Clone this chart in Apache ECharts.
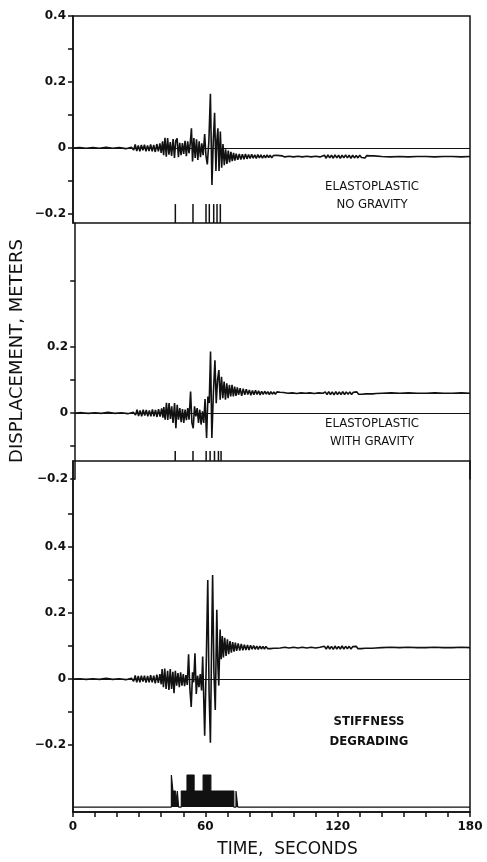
<!DOCTYPE html>
<html>
<head>
<meta charset="utf-8">
<script src="https://cdn.jsdelivr.net/npm/echarts@6/dist/echarts.min.js"></script>
<style>
  html, body { margin: 0; padding: 0; background: #fff; }
  #chart { width: 487px; height: 862px; }
</style>
</head>
<body>
<div id="chart"></div>
<script>
// displacement histories, [time s, displacement m]
var noGravity = [
  [0,0],[3,0.001],[6,-0.001],[9,0.001],[12,-0.001],[15,0.002],[18,-0.001],[21,0.001],[24,-0.002],[26.5,0.002],
  [27.5,-0.006],[28.2,0.011],[28.9,-0.009],[29.6,0.008],[30.3,-0.01],[31.0,0.009],[31.7,-0.007],[32.4,0.01],[33.1,-0.01],[33.8,0.008],
  [34.5,-0.009],[35.2,0.011],[35.9,-0.01],[36.6,0.009],[37.3,-0.012],[38.0,0.012],[38.7,-0.01],[39.4,0.014],[40.0,-0.015],
  [40.6,0.02],[41.1,-0.022],[41.7,0.031],[42.3,-0.026],[42.9,0.03],[43.5,-0.02],[44.1,0.018],[44.7,-0.024],[45.4,0.027],[46.0,-0.03],
  [46.6,0.022],[47.2,0.029],[47.8,-0.028],[48.4,0.016],[49.0,-0.022],[49.6,0.015],[50.2,-0.018],[50.8,0.022],[51.4,-0.025],[52.0,0.02],
  [52.6,-0.016],[53.1,0.01],[53.7,0.06],[54.2,-0.041],[54.8,0.03],[55.4,-0.03],[56.0,0.026],[56.6,-0.036],[57.2,0.02],[57.8,-0.028],
  [58.4,0.014],[59.0,-0.022],[59.7,0.042],[60.3,-0.025],[60.9,-0.05],[61.6,0.02],[62.3,0.164],[63.0,-0.112],[63.6,0.02],[64.2,0.107],
  [64.8,-0.07],[65.2,0.02],[65.7,0.06],[66.2,-0.07],[66.8,0.05],[67.4,-0.06],[68.0,0.012],[68.6,-0.052],[69.2,-0.004],[69.8,-0.048],
  [70.4,-0.008],[71.0,-0.044],[71.6,-0.012],[72.2,-0.04],[72.8,-0.015],[73.4,-0.038],[74.0,-0.017],[74.7,-0.036],[75.4,-0.018],[76.1,-0.035],
  [76.8,-0.019],[77.5,-0.034],[78.2,-0.018],[78.9,-0.033],[79.6,-0.02],[80.3,-0.032],[81.0,-0.019],[81.7,-0.031],[82.4,-0.021],[83.1,-0.032],
  [83.8,-0.02],[84.5,-0.03],[85.2,-0.021],[85.9,-0.031],[86.6,-0.022],[87.3,-0.03],[88.0,-0.021],[88.7,-0.029],[89.4,-0.022],[90.1,-0.03],
  [90.8,-0.023],[91.5,-0.029],[92.2,-0.022],[92.9,-0.028],[93.6,-0.023],[94.3,-0.029],[95.0,-0.024],[96,-0.027],[98,-0.025],[100,-0.027],
  [102,-0.025],[104,-0.027],[106,-0.025],[108,-0.027],[110,-0.025],[112,-0.027],
  [114,-0.022],[114.8,-0.031],[115.6,-0.021],[116.4,-0.03],[117.2,-0.022],[118,-0.031],[118.8,-0.021],[119.6,-0.03],[120.4,-0.022],[121.2,-0.031],
  [122,-0.022],[122.8,-0.03],[123.6,-0.021],[124.4,-0.03],[125.2,-0.022],[126,-0.031],[126.8,-0.022],[127.6,-0.03],[128.4,-0.023],[129.2,-0.03],
  [130,-0.022],[130.8,-0.029],[131.6,-0.023],[132.4,-0.03],[133.2,-0.023],[134,-0.029],[134.8,-0.024],[135.6,-0.029],[136.4,-0.024],[137.2,-0.028],
  [140,-0.026],[144,-0.027],[148,-0.026],[152,-0.027],[156,-0.026],[160,-0.026],[164,-0.027],[168,-0.026],[172,-0.026],[176,-0.027],[180,-0.026]
];

var withGravity = [
  [0,0],[3,0.001],[6,-0.001],[9,0.001],[12,-0.001],[15,0.002],[18,-0.001],[21,0.001],[24,-0.002],[26.5,0.002],
  [27.5,-0.006],[28.2,0.01],[28.9,-0.009],[29.6,0.008],[30.3,-0.01],[31.0,0.01],[31.7,-0.008],[32.4,0.009],[33.1,-0.01],[33.8,0.008],
  [34.5,-0.01],[35.2,0.011],[35.9,-0.01],[36.6,0.009],[37.3,-0.012],[38.0,0.012],[38.7,-0.011],[39.4,0.014],[40.0,-0.014],
  [40.4,0.018],[41.0,-0.02],[41.6,0.031],[42.2,-0.021],[42.8,0.03],[43.4,-0.018],[44.0,0.02],[44.6,-0.03],[45.3,0.03],[45.9,-0.046],
  [46.5,0.025],[47.1,-0.02],[47.7,0.015],[48.3,-0.028],[48.9,0.012],[49.5,-0.03],[50.1,0.01],[50.7,-0.022],[51.3,0.015],[51.9,-0.02],
  [52.6,0.065],[53.2,-0.03],[53.8,-0.046],[54.4,0.02],[55.0,-0.01],[55.6,0.015],[56.2,-0.03],[56.8,0.01],[57.4,-0.035],[58.0,0.005],
  [58.6,-0.03],[59.2,0.042],[59.9,-0.076],[60.5,0.05],[61.1,0.03],[61.7,0.186],[62.3,-0.076],[63.0,0.06],[63.7,0.16],[64.3,0.03],
  [64.9,0.1],[65.5,0.13],[66.1,0.04],[66.7,0.11],[67.3,0.045],[67.9,0.095],[68.5,0.04],[69.1,0.09],[69.7,0.045],[70.3,0.085],
  [70.9,0.05],[71.5,0.085],[72.1,0.05],[72.7,0.08],[73.3,0.052],[73.9,0.078],[74.5,0.055],[75.2,0.075],[75.9,0.052],[76.6,0.074],
  [77.3,0.055],[78.0,0.072],[78.7,0.056],[79.4,0.07],[80.1,0.054],[80.8,0.068],[81.5,0.055],[82.2,0.069],[82.9,0.056],[83.6,0.067],
  [84.3,0.055],[85.0,0.066],[85.7,0.056],[86.4,0.066],[87.1,0.057],[87.8,0.065],[88.5,0.056],[89.2,0.065],[89.9,0.057],[90.6,0.064],
  [91.3,0.057],[92.0,0.064],[92.7,0.058],[93.4,0.063],[94.1,0.058],[95,0.062],[97,0.06],[99,0.061],[101,0.059],[103,0.061],
  [105,0.06],[107,0.061],[109,0.059],[111,0.061],[113,0.06],
  [114,0.064],[114.8,0.056],[115.6,0.065],[116.4,0.056],[117.2,0.064],[118,0.055],[118.8,0.065],[119.6,0.056],[120.4,0.064],[121.2,0.056],
  [122,0.065],[122.8,0.056],[123.6,0.064],[124.4,0.057],[125.2,0.064],[126,0.056],[126.8,0.063],[127.6,0.057],[128.4,0.064],[129.2,0.057],
  [130,0.063],[130.8,0.057],[131.6,0.063],[132.4,0.058],[133.2,0.063],[134,0.058],[134.8,0.062],[135.6,0.058],[136.4,0.062],[137.2,0.059],
  [140,0.06],[144,0.061],[148,0.06],[152,0.061],[156,0.06],[160,0.06],[164,0.061],[168,0.06],[172,0.06],[176,0.061],[180,0.06]
];

var stiffness = [
  [0,0],[3,0.001],[6,-0.001],[9,0.001],[12,-0.001],[15,0.002],[18,-0.001],[21,0.001],[24,-0.002],[26.5,0.002],
  [27.5,-0.007],[28.2,0.011],[28.9,-0.01],[29.6,0.009],[30.3,-0.01],[31.0,0.01],[31.7,-0.008],[32.4,0.01],[33.1,-0.011],[33.8,0.009],
  [34.5,-0.01],[35.2,0.012],[35.9,-0.01],[36.6,0.01],[37.3,-0.013],[38.0,0.013],[38.7,-0.012],[39.4,0.015],[40.0,-0.016],
  [40.4,0.03],[41.0,-0.025],[41.6,0.032],[42.2,-0.03],[42.9,0.025],[43.5,-0.033],[44.1,0.03],[44.7,-0.03],[45.3,0.022],[45.8,-0.043],
  [46.4,0.025],[47.0,-0.02],[47.6,0.018],[48.2,-0.025],[48.8,0.02],[49.4,-0.02],[50.0,0.015],[50.6,-0.022],[51.2,0.012],[51.8,-0.018],
  [52.4,0.075],[53.0,-0.03],[53.6,-0.085],[54.2,0.02],[54.7,-0.01],[55.3,0.078],[55.9,-0.045],[56.5,0.01],[57.1,-0.025],[57.7,0.015],
  [58.3,-0.035],[58.8,0.068],[59.7,-0.172],[60.4,0.04],[61.1,0.3],[61.7,-0.04],[62.3,-0.193],[62.8,0.08],[63.3,0.315],[63.9,0.02],
  [64.5,-0.094],[65.2,0.21],[65.7,0.04],[66.1,-0.02],[66.7,0.15],[67.2,0.06],[67.7,0.13],[68.2,0.065],[68.8,0.125],[69.4,0.07],
  [70.0,0.12],[70.6,0.075],[71.2,0.115],[71.8,0.08],[72.4,0.112],[73.0,0.083],[73.6,0.11],[74.2,0.085],[74.9,0.108],[75.6,0.086],
  [76.3,0.106],[77.0,0.087],[77.7,0.104],[78.4,0.088],[79.1,0.103],[79.8,0.088],[80.5,0.102],[81.2,0.09],[81.9,0.101],[82.6,0.09],
  [83.3,0.1],[84.0,0.09],[84.7,0.1],[85.4,0.091],[86.1,0.099],[86.8,0.091],[87.5,0.099],[88.2,0.092],[88.9,0.098],[89.6,0.092],
  [90.3,0.098],[91.0,0.093],[91.7,0.097],[92.4,0.093],[93.1,0.097],[94,0.094],[96,0.096],[98,0.094],[100,0.096],[102,0.094],
  [104,0.096],[106,0.094],[108,0.096],[110,0.094],[112,0.096],
  [114,0.099],[114.8,0.091],[115.6,0.1],[116.4,0.091],[117.2,0.099],[118,0.09],[118.8,0.1],[119.6,0.091],[120.4,0.099],[121.2,0.091],
  [122,0.1],[122.8,0.091],[123.6,0.099],[124.4,0.092],[125.2,0.099],[126,0.091],[126.8,0.098],[127.6,0.092],[128.4,0.099],[129.2,0.092],
  [130,0.098],[130.8,0.092],[131.6,0.098],[132.4,0.093],[133.2,0.098],[134,0.093],[134.8,0.097],[135.6,0.093],[136.4,0.097],[137.2,0.094],
  [140,0.095],[144,0.096],[148,0.095],[152,0.096],[156,0.095],[160,0.095],[164,0.096],[168,0.095],[172,0.095],[176,0.096],[180,0.095]
];

// yield event times (s)
var yieldNoGravity = [46.4, 54.4, 60.3, 61.8, 63.8, 65.3, 66.8];
var yieldWithGravity = [45.6, 53.7, 59.7, 61.5, 63.5, 65.3, 66.5];

// stiffness degrading yield state: level held from each time to the next
var stiffYieldTime  = [0, 44.6, 45.3, 46.4, 47.3, 47.9, 49.1, 51.7, 54.9, 59.0, 62.5, 72.9, 73.9, 74.7, 180];
var stiffYieldLevel = [0, 2, 1, 0, 1, 0, 1, 2, 1, 2, 1, 0, 1, 0, 0];

var xTicks = [0, 60, 120, 180];
var yTicks1 = [-0.2, -0.1, 0, 0.1, 0.2, 0.3, 0.4];
var yLabels1 = [-0.2, 0, 0.2, 0.4];
var yTicks2 = [-0.2, -0.1, 0, 0.1, 0.2, 0.4];
var yLabels2 = [-0.2, 0, 0.2];
var yTicks3 = [-0.2, -0.1, 0, 0.1, 0.2, 0.3, 0.4, 0.5];
var yLabels3 = [-0.2, 0, 0.2, 0.4];

var myChart = echarts.init(document.getElementById('chart'));

var ink = '#111';
var font = 'DejaVu Sans';
var labelFont = '13px "Liberation Sans Narrow", "DejaVu Sans Condensed", "Liberation Sans", sans-serif';

function fmt(v) {
    if (v === 0) return '0';
    return (v < 0 ? '\u2212' : '') + Math.abs(v).toFixed(1);
}

function yAxisFor(grid, min, max, ticks, labels, extra) {
    var ax = {
        type: 'value', gridIndex: grid, min: min, max: max,
        axisLine: { show: true, onZero: false, lineStyle: { color: ink, width: 1.5 } },
        axisTick: { show: true, inside: false, length: 5, customValues: ticks, lineStyle: { color: ink, width: 1.5 } },
        axisLabel: { customValues: labels, formatter: fmt, margin: 7, color: ink, fontFamily: font, fontWeight: 'bold', fontSize: 12 },
        splitLine: { show: false }
    };
    for (var k in extra) ax[k] = extra[k];
    return ax;
}

var zeroLine = {
    silent: true, symbol: 'none', label: { show: false },
    lineStyle: { color: ink, width: 1.2, type: 'solid' },
    data: [{ yAxis: 0 }]
};

function yieldTicks(xi, yi, times, base, top) {
    return {
        type: 'custom', xAxisIndex: xi, yAxisIndex: yi, silent: true,
        data: times.map(function (t) { return [t, base]; }),
        encode: { x: 0, y: 1 },
        renderItem: function (params, api) {
            var p0 = api.coord([api.value(0), base]);
            var p1 = api.coord([api.value(0), top]);
            return { type: 'line', shape: { x1: p0[0], y1: p0[1], x2: p1[0], y2: p1[1] },
                     style: { stroke: ink, lineWidth: 1.5 } };
        }
    };
}

// panel value ranges (m) that match the stacked layout
var min1 = -0.2273, max1 = 0.4;
var min2 = -0.2, max2 = 0.5758, box2 = -0.1455;
var min3 = -0.403, max3 = 0.6606;
var yieldBase3 = -0.388, yieldStep3 = 0.0485;

var stiffYield = stiffYieldTime.map(function (t, i) {
    return [t, yieldBase3 + stiffYieldLevel[i] * yieldStep3];
});

var traceStyle = { color: ink, width: 1.6 };

option = {
    animation: false,
    backgroundColor: '#fff',
    grid: [
        { left: 73, right: 17, top: 16, height: 207, show: true, borderColor: ink, borderWidth: 1.5, backgroundColor: 'transparent' },
        { left: 73, right: 17, top: 223, height: 256, show: false },
        { left: 73, right: 17, top: 461, height: 351, show: true, borderColor: ink, borderWidth: 1.5, backgroundColor: 'transparent' }
    ],
    xAxis: [
        { type: 'value', gridIndex: 0, min: 0, max: 180, show: false },
        { type: 'value', gridIndex: 1, min: 0, max: 180, show: false },
        {
            type: 'value', gridIndex: 2, min: 0, max: 180, interval: 10, position: 'bottom',
            axisLine: { show: true, onZero: false, lineStyle: { color: ink, width: 1.5 } },
            axisTick: { show: true, length: 5, lineStyle: { color: ink, width: 1.5 } },
            axisLabel: {
                margin: 9, color: ink, fontFamily: font, fontWeight: 'bold', fontSize: 12,
                formatter: function (v) { return xTicks.indexOf(v) >= 0 ? String(v) : ''; }
            },
            splitLine: { show: false },
            name: 'TIME,  SECONDS', nameLocation: 'middle', nameGap: 29,
            nameTextStyle: { color: ink, fontFamily: font, fontSize: 17, padding: [0, 0, 0, 32] }
        }
    ],
    yAxis: [
        yAxisFor(0, min1, max1, yTicks1, yLabels1, {}),
        yAxisFor(1, min2, max2, yTicks2, yLabels2, {
            name: 'DISPLACEMENT, METERS', nameLocation: 'middle', nameGap: 47,
            nameTextStyle: { color: ink, fontFamily: font, fontSize: 18 }
        }),
        yAxisFor(2, min3, max3, yTicks3, yLabels3, {}),
        {
            type: 'value', gridIndex: 1, position: 'right', min: min2, max: max2,
            axisLine: { show: true, onZero: false, lineStyle: { color: ink, width: 1.5 } },
            axisTick: { show: false }, axisLabel: { show: false }, splitLine: { show: false }
        }
    ],
    graphic: [
        { type: 'text', x: 372, y: 178, silent: true,
          style: { text: 'ELASTOPLASTIC\nNO GRAVITY', textAlign: 'center', textVerticalAlign: 'top', lineHeight: 18,
                   font: labelFont, fill: ink } },
        { type: 'text', x: 372, y: 415, silent: true,
          style: { text: 'ELASTOPLASTIC\nWITH GRAVITY', textAlign: 'center', textVerticalAlign: 'top', lineHeight: 18,
                   font: labelFont, fill: ink } },
        { type: 'text', x: 369, y: 712, silent: true,
          style: { text: 'STIFFNESS\nDEGRADING', textAlign: 'center', textVerticalAlign: 'top', lineHeight: 20,
                   font: 'bold ' + labelFont, fill: ink } }
    ],
    series: [
        { name: 'Elastoplastic, no gravity', type: 'line', xAxisIndex: 0, yAxisIndex: 0, data: noGravity,
          showSymbol: false, lineStyle: traceStyle, markLine: zeroLine },
        yieldTicks(0, 0, yieldNoGravity, min1, -0.17),
        { name: 'Elastoplastic, with gravity', type: 'line', xAxisIndex: 1, yAxisIndex: 1, data: withGravity,
          showSymbol: false, lineStyle: traceStyle, markLine: zeroLine },
        yieldTicks(1, 1, yieldWithGravity, box2, -0.115),
        { name: 'Stiffness degrading', type: 'line', xAxisIndex: 2, yAxisIndex: 2, data: stiffness,
          showSymbol: false, lineStyle: traceStyle, markLine: zeroLine },
        { name: 'Yielding', type: 'line', xAxisIndex: 2, yAxisIndex: 2, data: stiffYield, step: 'end',
          showSymbol: false, lineStyle: { color: ink, width: 1.2 },
          areaStyle: { color: ink, opacity: 1, origin: yieldBase3 } }
    ]
};

myChart.setOption(option);

window.onresize = function () {
    myChart.resize();
};
</script>
</body>
</html>
